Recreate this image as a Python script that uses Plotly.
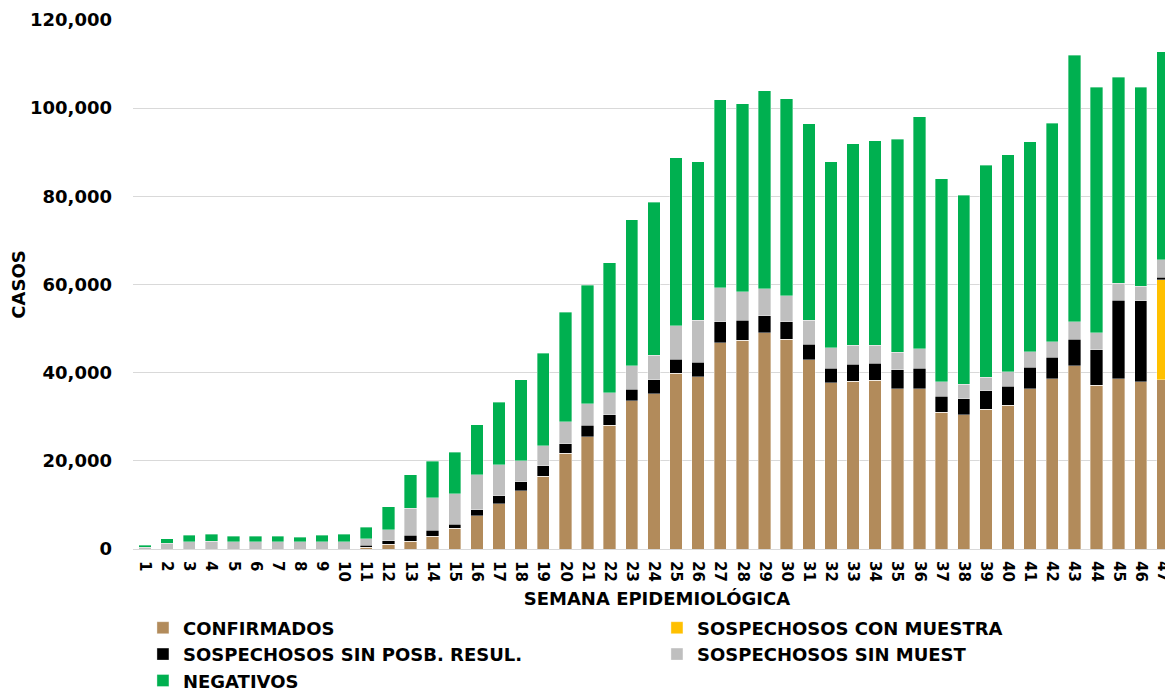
import plotly.graph_objects as go

semanas = list(range(1, 48))

confirmados = [0, 0, 0, 0, 0, 0, 0, 0, 0, 0,
               450, 1100, 1800, 2900, 4700, 7600, 10300, 13200, 16500, 21700,
               25500, 28100, 33600, 35200, 39900, 39100, 46800, 47400, 49100, 47600,
               42900, 37700, 38100, 38300, 36400, 36400, 31000, 30400, 31700, 32600,
               36400, 38600, 41600, 37100, 38600, 37900, 38400]

con_muestra = [0] * 46 + [22700]

sin_posb_resul = [0, 0, 0, 0, 0, 0, 0, 0, 0, 0,
                  350, 800, 1300, 1300, 900, 1300, 1800, 2100, 2400, 2200,
                  2600, 2400, 2600, 3200, 3200, 3300, 4700, 4500, 3800, 3900,
                  3500, 3300, 3800, 3800, 4300, 4600, 3600, 3700, 4200, 4300,
                  4800, 4900, 6000, 8100, 17800, 18400, 500]

sin_muestra = [450, 1300, 1600, 1800, 1600, 1600, 1600, 1600, 1600, 1700,
               1500, 2500, 6100, 7400, 6900, 7900, 7000, 4700, 4500, 5000,
               4900, 4900, 5400, 5600, 7500, 9500, 7800, 6500, 6100, 6000,
               5500, 4700, 4300, 4100, 3900, 4400, 3300, 3300, 3100, 3300,
               3600, 3500, 4000, 3800, 3900, 3300, 4000]

negativos = [450, 1000, 1500, 1500, 1300, 1300, 1300, 1100, 1500, 1600,
             2600, 5200, 7600, 8300, 9500, 11400, 14200, 18400, 21000, 24800,
             26800, 29500, 33100, 34700, 38100, 36000, 42600, 42600, 44900, 44600,
             44600, 42200, 45700, 46400, 48300, 52700, 46100, 42900, 48000, 49200,
             47600, 49600, 60400, 55700, 46700, 45200, 47200]

series = [
    ("CONFIRMADOS", confirmados, "#B28B5B"),
    ("SOSPECHOSOS CON MUESTRA", con_muestra, "#FFC000"),
    ("SOSPECHOSOS SIN POSB. RESUL.", sin_posb_resul, "#000000"),
    ("SOSPECHOSOS SIN MUEST", sin_muestra, "#BFBFBF"),
    ("NEGATIVOS", negativos, "#00B050"),
]

fig = go.Figure()
for nombre, valores, color in series:
    fig.add_trace(go.Bar(
        x=semanas,
        y=valores,
        name=nombre,
        width=0.56,
        marker=dict(color=color, line=dict(color="rgba(255,255,255,0.6)", width=0.6)),
    ))

# la página añade 8 px de margen al body: se compensa en los márgenes
fig.update_layout(
    barmode="stack",
    width=1173,
    height=691,
    template="plotly_white",
    paper_bgcolor="white",
    plot_bgcolor="white",
    margin=dict(l=125, r=0, t=12, b=150, autoexpand=False),
    font=dict(family="DejaVu Sans", color="black"),
    legend=dict(
        orientation="h",
        x=0.0095,
        y=-0.1144,
        xanchor="left",
        yanchor="top",
        entrywidth=469,
        entrywidthmode="pixels",
        traceorder="normal",
        font=dict(family="DejaVu Sans", size=18, weight="bold"),
        itemwidth=30,
    ),
)

fig.update_xaxes(
    range=[0.46, 47.82],
    tickmode="array",
    tickvals=semanas,
    ticktext=[str(s) for s in semanas],
    tickangle=90,
    tickfont=dict(size=15, weight="bold"),
    ticklabelstandoff=8,
    showgrid=False,
    showline=True,
    linecolor="#D9D9D9",
    linewidth=1,
    ticks="",
    automargin=False,
    title=dict(text="SEMANA EPIDEMIOLÓGICA", font=dict(size=18, weight="bold"), standoff=11),
)

fig.update_yaxes(
    range=[0, 120000],
    tickvals=[0, 20000, 40000, 60000, 80000, 100000, 120000],
    tickformat=",d",
    tickfont=dict(size=18, weight="bold"),
    showgrid=True,
    gridcolor="#D9D9D9",
    gridwidth=1,
    zeroline=False,
    ticks="",
    ticklabelstandoff=20,
    automargin=False,
    title=dict(text="CASOS", font=dict(size=18, weight="bold"), standoff=3),
)

fig.write_html("out.html")
